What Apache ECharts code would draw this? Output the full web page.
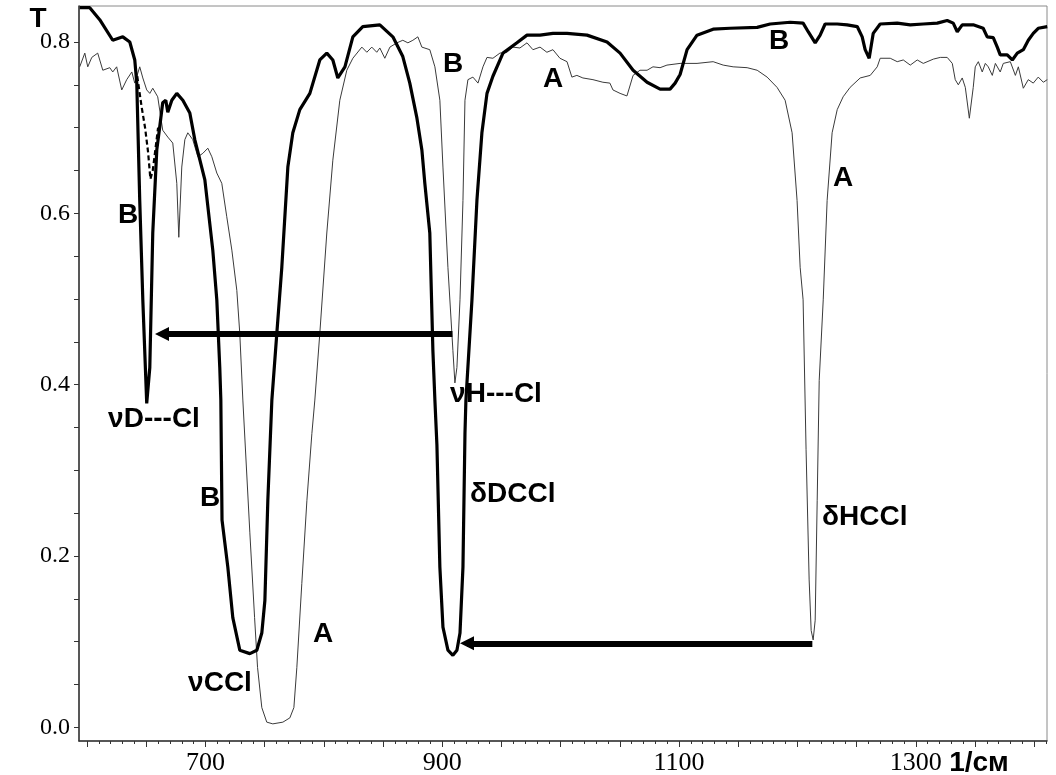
<!DOCTYPE html>
<html>
<head>
<meta charset="utf-8">
<script src="https://cdn.jsdelivr.net/npm/echarts@6/dist/echarts.min.js"></script>
<style>
html, body { margin: 0; background: #fff; }
#chart { width: 1056px; height: 775px; }
</style>
</head>
<body>
<div id="chart"></div>
<script>
// спектр A (тонкая линия): [1/см, T]
var specA = [
  [593.8, 0.771], [598.1, 0.787], [600.6, 0.771], [604.0, 0.782], [609.0, 0.787], [613.3, 0.767],
  [619.2, 0.770], [621.7, 0.765], [625.0, 0.771], [629.3, 0.744], [633.5, 0.756], [637.8, 0.765],
  [640.3, 0.752], [644.5, 0.771], [647.1, 0.758], [650.4, 0.744], [653.0, 0.740], [655.5, 0.746],
  [659.7, 0.736], [663.9, 0.697], [668.2, 0.689], [672.4, 0.682], [675.8, 0.635], [677.5, 0.572],
  [680.0, 0.654], [682.6, 0.686], [685.1, 0.694], [689.3, 0.686], [693.6, 0.666], [697.8, 0.670],
  [702.0, 0.676], [705.4, 0.666], [709.6, 0.647], [713.8, 0.635], [718.0, 0.596], [722.3, 0.557],
  [726.5, 0.510], [729.0, 0.460], [731.6, 0.382], [737.5, 0.227], [741.5, 0.128], [744.0, 0.070],
  [747.6, 0.023], [751.8, 0.006], [756.9, 0.004], [765.4, 0.006], [771.3, 0.011], [774.7, 0.023],
  [777.2, 0.070], [781.4, 0.168], [785.7, 0.265], [789.9, 0.343], [792.4, 0.382], [796.6, 0.460],
  [802.5, 0.577], [807.6, 0.662], [813.5, 0.732], [819.4, 0.767], [824.5, 0.781], [832.1, 0.794],
  [836.3, 0.788], [840.5, 0.794], [844.7, 0.788], [847.3, 0.793], [851.5, 0.781], [855.8, 0.794],
  [861.7, 0.799], [866.7, 0.802], [871.0, 0.799], [875.2, 0.802], [879.4, 0.806], [882.8, 0.794],
  [889.5, 0.791], [893.8, 0.771], [898.0, 0.732], [900.6, 0.654], [904.8, 0.537], [909.0, 0.440],
  [910.7, 0.402], [912.4, 0.420], [915.0, 0.499], [917.5, 0.615], [919.2, 0.732], [921.7, 0.756],
  [925.9, 0.759], [930.2, 0.752], [934.4, 0.771], [937.8, 0.782], [942.8, 0.781], [948.7, 0.787],
  [954.6, 0.788], [959.7, 0.794], [965.6, 0.793], [971.6, 0.799], [976.6, 0.791], [982.6, 0.794],
  [988.4, 0.788], [993.5, 0.791], [999.4, 0.781], [1005.4, 0.777], [1009.5, 0.759], [1013.7, 0.761],
  [1018.8, 0.758], [1027.3, 0.756], [1035.7, 0.753], [1041.6, 0.752], [1044.2, 0.744], [1050.2, 0.740],
  [1056.0, 0.737], [1061.2, 0.761], [1067.0, 0.767], [1073.0, 0.767], [1078.0, 0.771], [1084.0, 0.770],
  [1089.8, 0.773], [1100.9, 0.775], [1115.2, 0.775], [1128.8, 0.777], [1137.3, 0.773], [1145.7, 0.771],
  [1157.5, 0.770], [1166.0, 0.767], [1174.4, 0.759], [1182.8, 0.747], [1189.6, 0.732], [1195.5, 0.694],
  [1199.7, 0.615], [1202.3, 0.537], [1204.8, 0.499], [1207.3, 0.324], [1209.9, 0.172], [1211.6, 0.113],
  [1213.3, 0.102], [1215.0, 0.125], [1216.7, 0.265], [1218.4, 0.405], [1221.8, 0.499], [1225.1, 0.615],
  [1229.3, 0.694], [1233.6, 0.721], [1238.6, 0.736], [1244.5, 0.747], [1253.0, 0.758], [1261.5, 0.761],
  [1267.4, 0.771], [1269.9, 0.781], [1278.4, 0.781], [1284.3, 0.777], [1289.4, 0.779], [1295.3, 0.773],
  [1301.2, 0.779], [1306.3, 0.775], [1314.8, 0.780], [1320.7, 0.782], [1326.5, 0.782], [1330.8, 0.775],
  [1333.3, 0.756], [1335.9, 0.750], [1339.2, 0.758], [1341.8, 0.747], [1345.2, 0.711], [1348.5, 0.747],
  [1350.2, 0.771], [1352.8, 0.777], [1356.1, 0.765], [1358.7, 0.775], [1361.2, 0.771], [1364.6, 0.761],
  [1367.2, 0.775], [1371.3, 0.765], [1373.9, 0.775], [1379.8, 0.777], [1384.1, 0.761], [1386.6, 0.771],
  [1390.8, 0.746], [1395.0, 0.756], [1399.2, 0.752], [1403.4, 0.759], [1407.7, 0.753], [1411.0, 0.756]
]

// спектр B (жирная линия)
var specB = [
  [593.8, 0.840], [602.3, 0.840], [610.7, 0.826], [621.7, 0.802], [630.2, 0.806], [636.1, 0.800],
  [640.3, 0.779], [642.0, 0.752], [644.5, 0.615], [647.1, 0.499], [650.4, 0.378], [653.0, 0.420],
  [655.5, 0.577], [658.9, 0.674], [661.4, 0.701], [663.9, 0.729], [666.5, 0.732], [668.2, 0.718],
  [671.6, 0.732], [675.8, 0.740], [680.9, 0.732], [686.8, 0.717], [691.0, 0.686], [699.5, 0.639],
  [706.2, 0.557], [709.6, 0.499], [712.1, 0.420], [713.0, 0.382], [714.0, 0.242], [718.9, 0.187],
  [723.1, 0.128], [729.0, 0.090], [737.5, 0.086], [743.4, 0.090], [747.6, 0.110], [750.2, 0.148],
  [752.7, 0.265], [756.1, 0.382], [760.3, 0.460], [764.5, 0.537], [769.6, 0.654], [773.8, 0.694],
  [779.7, 0.721], [788.2, 0.740], [796.6, 0.779], [802.5, 0.787], [807.6, 0.779], [811.8, 0.758],
  [817.8, 0.771], [824.5, 0.806], [832.9, 0.818], [847.3, 0.820], [858.3, 0.806], [866.7, 0.783],
  [872.6, 0.752], [878.5, 0.712], [882.8, 0.674], [885.3, 0.635], [889.5, 0.577], [892.1, 0.440],
  [893.8, 0.382], [895.5, 0.330], [898.0, 0.187], [900.6, 0.117], [904.8, 0.090], [909.0, 0.084],
  [912.4, 0.090], [915.0, 0.110], [917.5, 0.187], [919.2, 0.343], [920.0, 0.382], [925.1, 0.499],
  [929.3, 0.615], [933.5, 0.694], [937.8, 0.740], [942.8, 0.760], [951.3, 0.787], [963.1, 0.799],
  [971.6, 0.808], [982.6, 0.808], [993.5, 0.810], [1005.4, 0.810], [1022.3, 0.808], [1039.2, 0.800],
  [1050.2, 0.787], [1061.2, 0.767], [1073.0, 0.753], [1084.0, 0.745], [1092.4, 0.745], [1096.7, 0.752],
  [1100.9, 0.762], [1106.8, 0.791], [1115.2, 0.808], [1128.8, 0.815], [1143.1, 0.816], [1166.0, 0.817],
  [1177.0, 0.821], [1193.9, 0.823], [1204.8, 0.822], [1209.1, 0.812], [1215.0, 0.799], [1219.2, 0.808],
  [1223.4, 0.821], [1233.6, 0.821], [1242.0, 0.820], [1250.5, 0.818], [1254.7, 0.806], [1257.2, 0.791],
  [1260.6, 0.781], [1264.0, 0.810], [1269.9, 0.821], [1284.3, 0.822], [1295.3, 0.820], [1306.3, 0.821],
  [1318.1, 0.822], [1326.5, 0.825], [1331.6, 0.822], [1335.0, 0.812], [1339.2, 0.820], [1348.5, 0.820],
  [1356.9, 0.816], [1360.3, 0.806], [1365.4, 0.805], [1368.8, 0.794], [1371.3, 0.785], [1377.2, 0.785],
  [1381.5, 0.779], [1385.7, 0.787], [1390.8, 0.791], [1395.0, 0.802], [1399.2, 0.810], [1403.4, 0.816],
  [1411.0, 0.818]
]

// пунктирный участок B около 650
var specBdash = [
  [642.4, 0.760], [646.0, 0.725], [649.0, 0.700], [651.5, 0.672], [653.5, 0.640],
  [655.5, 0.650], [657.5, 0.672], [660.0, 0.700]
]

// стрелки сдвига полос: [от, до]
var arrows = [
  [[908.6, 0.459], [663.3, 0.459]],
  [[1212.6, 0.098], [920.9, 0.098]]
]

var xLabelValues = [700, 900, 1100, 1300]
var yLabelValues = [0, 0.2, 0.4, 0.6, 0.8]

var xMin = 593.2, xMax = 1410.8
var yMin = -0.016, yMax = 0.842

var xMajor = [], xMinor = [], yTicks = []
for (var v = 600; v <= 1400; v += 50) xMajor.push(v)
for (var v = 600; v <= 1410; v += 10) xMinor.push(v)
for (var i = 0; i <= 16; i++) yTicks.push(+(i * 0.05).toFixed(2))

var serif = '"Liberation Serif", "Times New Roman", serif'
var sans = '"Liberation Sans", Arial, sans-serif'

function note(text, x, y, align) {
  return {
    type: 'text',
    x: x,
    y: y,
    silent: true,
    style: {
      text: text,
      font: 'bold 28px ' + sans,
      fill: '#000',
      align: align || 'center',
      verticalAlign: 'middle'
    }
  }
}

var chart = echarts.init(document.getElementById('chart'))

var option = {
  animation: false,
  backgroundColor: '#fff',
  grid: {
    left: 79,
    right: 9,
    top: 6,
    bottom: 34,
    show: true,
    borderColor: '#8a8a8a',
    borderWidth: 1,
    outerBoundsMode: 'none'
  },
  xAxis: [
    {
      type: 'value',
      min: xMin,
      max: xMax,
      position: 'bottom',
      axisLine: { onZero: false, lineStyle: { color: '#333', width: 1.5 } },
      axisTick: { customValues: xMajor, length: 6, lineStyle: { color: '#333' } },
      axisLabel: {
        customValues: xLabelValues,
        margin: 9,
        color: '#000',
        fontSize: 26,
        fontFamily: serif,
        formatter: function (v) { return String(v) }
      },
      splitLine: { show: false }
    },
    {
      type: 'value',
      min: xMin,
      max: xMax,
      position: 'bottom',
      axisLine: { show: false, onZero: false },
      axisTick: { customValues: xMinor, length: 3, lineStyle: { color: '#333' } },
      axisLabel: { show: false },
      splitLine: { show: false }
    }
  ],
  yAxis: {
    type: 'value',
    min: yMin,
    max: yMax,
    axisLine: { show: true, onZero: false, lineStyle: { color: '#333', width: 1.5 } },
    axisTick: { show: true, customValues: yTicks, length: 5, lineStyle: { color: '#333' } },
    axisLabel: {
      customValues: yLabelValues,
      margin: 9,
      color: '#000',
      fontSize: 24,
      fontFamily: serif,
      formatter: function (v) { return v.toFixed(1) }
    },
    splitLine: { show: false }
  },
  series: [
    {
      name: 'A',
      type: 'line',
      data: specA,
      showSymbol: false,
      silent: true,
      lineStyle: { color: '#3a3a3a', width: 1 }
    },
    {
      name: 'B',
      type: 'line',
      data: specB,
      showSymbol: false,
      silent: true,
      lineStyle: { color: '#000', width: 3.2 }
    },
    {
      name: 'B dash',
      type: 'line',
      data: specBdash,
      showSymbol: false,
      silent: true,
      lineStyle: { color: '#000', width: 2.2, type: [5, 3] }
    },
    {
      name: 'arrows',
      type: 'line',
      data: [],
      silent: true,
      markLine: {
        silent: true,
        symbol: ['none', 'triangle'],
        symbolSize: 14,
        label: { show: false },
        lineStyle: { color: '#000', width: 6, type: 'solid' },
        data: arrows.map(function (a) {
          return [{ coord: a[0] }, { coord: a[1] }]
        })
      }
    }
  ],
  graphic: [
    note('T', 38, 19),
    note('B', 128, 215),
    note('νD---Cl', 154, 419),
    note('B', 453, 64),
    note('A', 553, 79),
    note('B', 779, 41),
    note('A', 843, 178),
    note('νH---Cl', 496, 394),
    note('δDCCl', 470, 494, 'left'),
    note('δHCCl', 822, 517, 'left'),
    note('B', 210, 498),
    note('A', 323, 634),
    note('νCCl', 220, 683),
    note('1/см', 979, 763)
  ]
}

chart.setOption(option)
</script>
</body>
</html>
